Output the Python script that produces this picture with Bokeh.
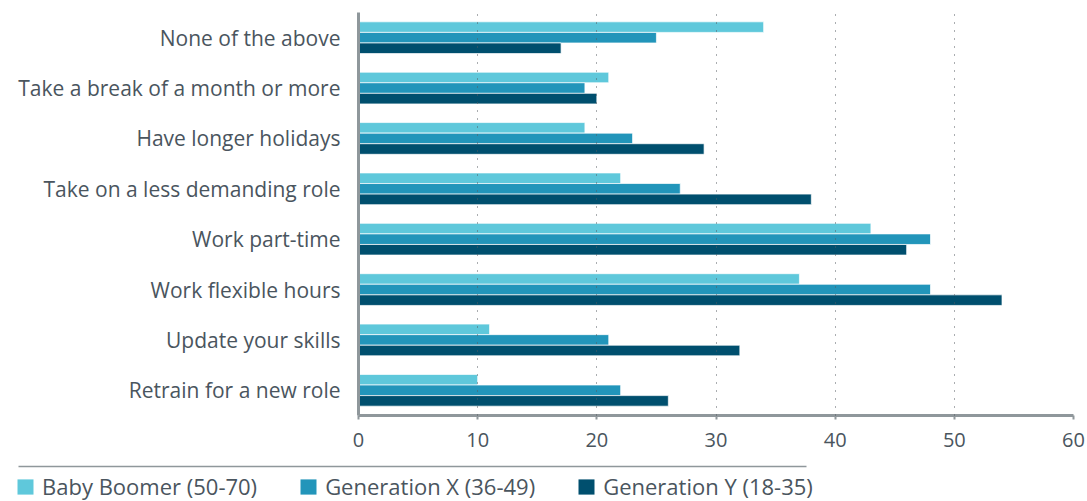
from bokeh.plotting import figure
from bokeh.models import ColumnDataSource, FactorRange, Range1d, FixedTicker, Legend, LegendItem, BoxAnnotation
from bokeh.layouts import column
from bokeh.transform import dodge
from bokeh.embed import file_html
from bokeh.resources import INLINE

categories = [
    "None of the above",
    "Take a break of a month or more",
    "Have longer holidays",
    "Take on a less demanding role",
    "Work part-time",
    "Work flexible hours",
    "Update your skills",
    "Retrain for a new role",
]
baby_boomer = [34, 21, 19, 22, 43, 37, 11, 10]
generation_x = [25, 19, 23, 27, 48, 48, 21, 22]
generation_y = [17, 20, 29, 38, 46, 54, 32, 26]
series_names = ["Baby Boomer (50-70)", "Generation X (36-49)", "Generation Y (18-35)"]
series_colors = ["#5fc8db", "#2295ba", "#004f6e"]
x_ticks = [0, 10, 20, 30, 40, 50, 60]

FONT = "Open Sans"
TEXT = "#4a555e"
AXIS = "#8f979b"

src = ColumnDataSource(dict(cat=categories, bb=baby_boomer, gx=generation_x, gy=generation_y))

p = figure(
    width=1087, height=456,
    y_range=FactorRange(*reversed(categories)),
    x_range=Range1d(0, 60),
    output_backend="svg", toolbar_location=None,
    min_border_left=358, min_border_right=14, min_border_top=12, min_border_bottom=41,
)
p.frame_align = False
p.outline_line_color = None

bh = 0.21
for col, off, color in zip(["bb", "gx", "gy"], [bh, 0, -bh], series_colors):
    p.hbar(y=dodge("cat", off, range=p.y_range), left=0, right=col, height=bh, source=src,
           fill_color=color, line_color="white", line_alpha=0.7, line_width=1)

p.ygrid.grid_line_color = None
p.xgrid.grid_line_color = "#555b60"
p.xgrid.grid_line_dash = "1 7"
p.xgrid.grid_line_width = 1
p.xgrid.level = "annotation"

p.xaxis.ticker = FixedTicker(ticks=x_ticks)
p.xgrid.ticker = FixedTicker(ticks=x_ticks[1:])
p.xaxis.axis_line_color = AXIS
p.xaxis.axis_line_width = 3
p.xaxis.major_tick_line_color = AXIS
p.xaxis.major_tick_line_width = 2
p.xaxis.major_tick_out = 4
p.xaxis.major_tick_in = 0
p.xaxis.minor_tick_line_color = None
p.xaxis.major_label_text_font = FONT
p.xaxis.major_label_text_font_size = "20px"
p.xaxis.major_label_text_color = TEXT
p.xaxis.major_label_standoff = 13

p.yaxis.axis_line_color = AXIS
p.yaxis.axis_line_width = 3
p.yaxis.major_tick_line_color = None
p.yaxis.minor_tick_line_color = None
p.yaxis.major_label_text_font = FONT
p.yaxis.major_label_text_font_size = "21px"
p.yaxis.major_label_text_color = TEXT
p.yaxis.major_label_standoff = 12

# legend panel
p2 = figure(
    width=1087, height=45,
    x_range=Range1d(0, 1), y_range=Range1d(0, 1),
    output_backend="svg", toolbar_location=None,
    min_border_left=0, min_border_right=0, min_border_top=0, min_border_bottom=0,
)
p2.frame_align = False
p2.outline_line_color = None
p2.xaxis.visible = False
p2.yaxis.visible = False
p2.grid.visible = False
p2.add_layout(BoxAnnotation(left=18, right=806, top=35.75, bottom=34.25,
                            left_units="screen", right_units="screen",
                            top_units="screen", bottom_units="screen",
                            fill_color=AXIS, fill_alpha=1, line_color=None))

items = []
for name, color in zip(series_names, series_colors):
    r = p2.quad(left=[0], right=[0], top=[0], bottom=[0], fill_color=color, line_color=None)
    items.append(LegendItem(label=name, renderers=[r]))
leg = Legend(items=items, orientation="horizontal", location=(15, 0),
             glyph_width=20, glyph_height=19, label_standoff=7, spacing=41,
             padding=0, margin=0, border_line_color=None, background_fill_alpha=0,
             label_text_font=FONT, label_text_font_size="22px", label_text_color=TEXT)
p2.add_layout(leg)

layout = column(p, p2, spacing=0)
open("out.html", "w").write(file_html(layout, INLINE))
